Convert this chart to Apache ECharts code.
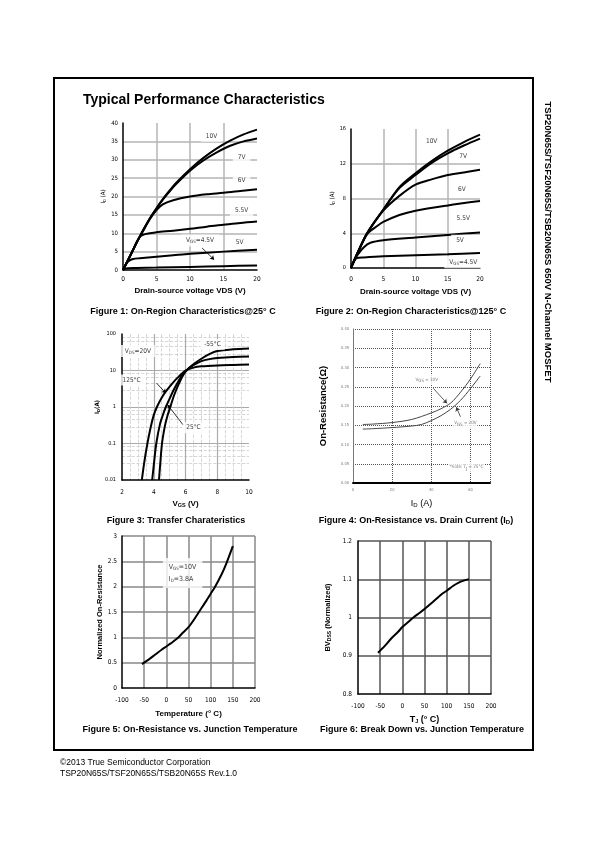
<!DOCTYPE html>
<html><head><meta charset="utf-8">
<script src="https://cdn.jsdelivr.net/npm/echarts@6/dist/echarts.min.js"></script>
<style>html,body{margin:0;padding:0;background:#fff}#c{width:595px;height:842px}</style>
</head><body><div id="c"></div>
<script>
// ---------- DATA ----------
// Figure 1: On-Region Characteristics @25°C  [V_DS (V), I_D (A)]
const f1_vgs10 = [[0,0],[1,3.6],[2,7.3],[3,10.8],[4,14],[5,16.8],[6,19.4],[7,21.7],[8,23.8],[10,27.4],[12,30.5],[14,33.1],[16,35.2],[18,36.9],[20,38.2]];
const f1_vgs7  = [[0,0],[1,3.6],[2,7.3],[3,10.8],[4,14],[5,16.8],[6,19.3],[7,21.5],[8,23.5],[10,27],[12,29.8],[14,32],[16,33.8],[18,35],[20,35.8]];
const f1_vgs6  = [[0,0],[1,3.6],[2,7.3],[3,10.6],[4,13.8],[5,16.3],[6,17.9],[7.5,19],[10,20],[12.5,20.6],[15,21],[17.5,21.5],[20,22]];
const f1_vgs55 = [[0,0],[0.5,1.8],[1,3.6],[1.5,5.5],[2,7.5],[2.5,9],[3,9.6],[4,10],[5,10.3],[7.5,10.7],[10,11.2],[12.5,11.8],[15,12.3],[17.5,12.8],[20,13.2]];
const f1_vgs5  = [[0,0],[0.3,1.1],[0.6,2],[1,2.6],[1.5,3],[2.5,3.2],[5,3.6],[7.5,4],[10,4.4],[15,5],[20,5.5]];
const f1_vgs45 = [[0,0],[0.3,0.35],[0.7,0.5],[2,0.55],[5,0.65],[10,0.85],[15,1.05],[20,1.25]];
// Figure 2: On-Region Characteristics @125°C
const f2_vgs10 = [[0,0],[1,1.7],[2.5,4.0],[5,6.7],[7.5,9.3],[10,10.9],[12.5,12.3],[15,13.5],[17.5,14.5],[20,15.35]];
const f2_vgs7  = [[0,0],[1,1.7],[2.5,4.0],[5,6.7],[7.5,9.2],[10,10.7],[12.5,12.1],[15,13.2],[17.5,14.1],[20,14.9]];
const f2_vgs6  = [[0,0],[1,1.7],[2.5,4.0],[5,6.6],[7.5,8.3],[10,9.6],[12.5,10.2],[15,10.7],[17.5,11.0],[20,11.3]];
const f2_vgs55 = [[0,0],[1,1.7],[2.5,3.9],[4,4.8],[5,5.3],[7.5,6.1],[10,6.6],[15,7.2],[20,7.7]];
const f2_vgs5  = [[0,0],[0.5,0.9],[1,1.5],[2,2.4],[3,2.9],[5,3.2],[10,3.5],[15,3.8],[20,4.1]];
const f2_vgs45 = [[0,0],[0.3,0.55],[0.9,1.15],[2,1.22],[5,1.34],[10,1.46],[15,1.57],[20,1.73]];
// Figure 3: Transfer characteristics [V_GS (V), I_D (A)]
const f3_t125 = [[3.25,0.01],[3.4,0.03],[3.6,0.1],[3.8,0.27],[4.0,0.6],[4.2,1.0],[4.5,1.8],[4.8,2.8],[5.2,4.6],[5.6,7],[6,10],[6.5,12],[7,13],[8,13.8],[9,14.2],[10,14.5]];
const f3_t25  = [[3.9,0.01],[4.0,0.025],[4.16,0.1],[4.4,0.35],[4.6,0.65],[4.76,1.0],[5.0,1.7],[5.3,3.2],[5.6,5.5],[5.85,8.2],[6.1,10.5],[6.5,14],[7,18],[7.5,20.5],[8,22],[9,23.5],[10,24]];
const f3_tm55 = [[4.33,0.01],[4.4,0.025],[4.52,0.1],[4.7,0.3],[4.85,0.55],[5.04,1.0],[5.3,2.2],[5.6,4.5],[5.9,8],[6.2,11.5],[6.6,16],[7,21],[7.5,28],[8,34],[9,38],[10,40]];
// Figure 4: On-resistance vs drain current [I_D (A), R (ohm)]
const f4_vgs10 = [[5,0.152],[10,0.153],[20,0.157],[30,0.165],[40,0.182],[45,0.193],[50,0.208],[55,0.236],[60,0.27],[65,0.31]];
const f4_vgs20 = [[5,0.14],[10,0.141],[20,0.144],[30,0.148],[35,0.152],[40,0.162],[45,0.175],[50,0.192],[55,0.215],[60,0.245],[65,0.278]];
// Figure 5: Normalized on-resistance vs temperature
const f5_rdson = [[-55,0.47],[-40,0.56],[-25,0.66],[-10,0.76],[0,0.82],[10,0.88],[25,0.98],[35,1.07],[50,1.2],[60,1.32],[75,1.52],[90,1.72],[100,1.86],[110,2.0],[125,2.25],[135,2.45],[150,2.8]];
// Figure 6: Normalized BVdss vs temperature
const f6_bvdss = [[-55,0.908],[-40,0.925],[-25,0.945],[-10,0.962],[0,0.975],[10,0.985],[25,1.0],[40,1.013],[50,1.022],[60,1.032],[75,1.047],[90,1.062],[100,1.07],[115,1.083],[125,1.09],[140,1.097],[150,1.1]];

// annotations (text, x, y in data units)
const f1_notes = [['10V',13.2,36.4],['7V',17.7,30.7],['6V',17.7,24.5],['5.5V',17.7,16.2],['5V',17.4,7.5],['V{s|GS}=4.5V',11.5,8]];
const f1_arrows = [[[11.8,6],[13.6,2.8]]];
const f2_notes = [['10V',12.5,14.6],['7V',17.4,12.85],['6V',17.2,9.1],['5.5V',17.4,5.75],['5V',16.9,3.2],['V{s|GS}=4.5V',17.4,0.65]];
const f3_notes = [['V{s|DS}=20V',3.0,34],['-55°C',7.7,52],['125°C',2.6,5.5],['25°C',6.5,0.27]];
const f3_arrows = [[[4.18,4.5],[4.76,2.4]],[[5.83,0.33],[4.87,1.16]]];
const f4_notes = [['V{s|GS} = 10V',37.7,0.268],['V{s|GS} = 20V',57.4,0.155],['*note: T{s|J} = 25°C',58,0.042]];
const f4_arrows = [[[41,0.246],[48,0.207]],[[54.9,0.172],[52.8,0.197]]];
const f5_notes = [['V{s|GS}=10V\nI{s|D}=3.8A',-8,2.27]];

// ---------- HELPERS ----------
const FN = "'Liberation Sans Narrow','Arial Narrow','DejaVu Sans Condensed','Liberation Sans',sans-serif";
const FB = "'Liberation Sans',Arial,sans-serif";
const SUB = {s:{fontSize:4.5, padding:[3,0,0,0], fontFamily:FN}};

function xA(gi, o){
  return Object.assign({type:'value', gridIndex:gi, nameLocation:'middle',
    axisLine:{show:true, onZero:false, lineStyle:{color:'#000', width:1.5}},
    axisTick:{show:false},
    axisLabel:{color:'#000', fontSize:6.5, fontFamily:FN, margin:6},
    nameTextStyle:{color:'#000', fontSize:8, fontWeight:'bold', fontFamily:FB, rich:{s:{fontSize:5.5, fontWeight:'bold', padding:[3,0,0,0]}}},
    splitLine:{show:true, showMinLine:false, lineStyle:{color:'#b0b0b0', width:1.5}}
  }, o);
}
function curve(data, gi, w, col){
  return {type:'line', xAxisIndex:gi, yAxisIndex:gi, data:data, showSymbol:false, symbol:'none',
    smooth:0.3, lineStyle:{color:col||'#000', width:w||2}, z:3, silent:true};
}
function notes(items, gi, fs, extra){
  return {type:'scatter', xAxisIndex:gi, yAxisIndex:gi, symbolSize:0, z:5, silent:true,
    data: items.map(n=>({value:[n[1],n[2]], name:n[0]})),
    label:Object.assign({show:true, position:'inside', formatter:p=>p.name, color:'#000',
      fontSize:fs, fontFamily:FN, backgroundColor:'#fff', padding:[1,3], rich:SUB}, extra||{})};
}
function arrows(list, gi, col){
  return {type:'lines', coordinateSystem:'cartesian2d', xAxisIndex:gi, yAxisIndex:gi, z:6, silent:true,
    data:list.map(c=>({coords:c})), symbol:['none','arrow'], symbolSize:4,
    lineStyle:{color:col||'#000', width:0.8, opacity:1, curveness:0}};
}

// ---------- CHART ----------
const chart = echarts.init(document.getElementById('c'), null, {renderer:'canvas'});
const grids = [
  {left:123, top:123, width:134, height:147},
  {left:351, top:129, width:129, height:139},
  {left:122, top:334, width:127, height:146},
  {left:353, top:329, width:137, height:154},
  {left:122, top:536, width:133, height:152},
  {left:358, top:541, width:133, height:153}
];
const xAxes = [
  xA(0,{min:0,max:20,interval:5, name:'Drain-source voltage VDS (V)', nameGap:17,
    splitLine:{show:true, showMinLine:false, showMaxLine:false, lineStyle:{color:'#b5b5b5', width:1.5}}}),
  xA(1,{min:0,max:20,interval:5, name:'Drain-source voltage VDS (V)', nameGap:20,
    axisLabel:{color:'#000', fontSize:6.5, fontFamily:FN, margin:8},
    splitLine:{show:true, showMinLine:false, showMaxLine:false, lineStyle:{color:'#b5b5b5', width:1.5}}}),
  xA(2,{min:2,max:10,interval:2, name:'V{s|GS} (V)', nameGap:19,
    axisLabel:{color:'#000', fontSize:6.5, fontFamily:FN, margin:9},
    splitLine:{show:true, showMinLine:false, showMaxLine:false, lineStyle:{color:'#aaa', width:1.2}},
    minorTick:{show:false, splitNumber:4},
    minorSplitLine:{show:true, lineStyle:{color:'#ccc', width:0.8, type:'dashed'}}}),
  xA(3,{min:0,max:70,interval:20, name:'I{s|D} (A)', nameGap:16,
    axisLabel:{color:'#777', fontSize:4, fontFamily:FN, margin:5, showMaxLabel:false},
    nameTextStyle:{color:'#000', fontSize:9, fontFamily:FB, rich:{s:{fontSize:6, padding:[3,0,0,0]}}},
    splitLine:{show:true, showMinLine:false, lineStyle:{color:'#555', width:1, type:'dotted'}}}),
  xA(4,{min:-100,max:200,interval:50, name:'Temperature (° C)', nameGap:22,
    axisLabel:{color:'#000', fontSize:6.5, fontFamily:FN, margin:9},
    splitLine:{show:true, showMinLine:false, lineStyle:{color:'#888', width:1.5}}}),
  xA(5,{min:-100,max:200,interval:50, name:'T{s|J} (° C)', nameGap:21,
    nameTextStyle:{color:'#000', fontSize:9, fontWeight:'bold', fontFamily:FB, rich:{s:{fontSize:5.5, fontWeight:'bold', padding:[3,0,0,0]}}},
    axisLabel:{color:'#000', fontSize:6.5, fontFamily:FN, margin:9},
    splitLine:{show:true, showMinLine:false, lineStyle:{color:'#555', width:1.5}}})
];
const yAxes = [
  xA(0,{min:0,max:40,interval:5, name:'I{s|D} (A)', nameGap:15,
    nameTextStyle:{color:'#000', fontSize:6, fontFamily:FN, rich:{s:{fontSize:4, padding:[3,0,0,0]}}},
    axisLabel:{color:'#000', fontSize:6, fontFamily:FN, margin:5},
    splitLine:{show:true, showMinLine:false, showMaxLine:false, lineStyle:{color:'#b5b5b5', width:1.5}}}),
  xA(1,{min:0,max:16,interval:4, name:'I{s|D} (A)', nameGap:13,
    nameTextStyle:{color:'#000', fontSize:6, fontFamily:FN, rich:{s:{fontSize:4, padding:[3,0,0,0]}}},
    axisLabel:{color:'#000', fontSize:5.5, fontFamily:FN, margin:5},
    splitLine:{show:true, showMinLine:false, showMaxLine:false, lineStyle:{color:'#b5b5b5', width:1.5}}}),
  xA(2,{type:'log', logBase:10, min:0.01, max:100, name:'I{s|D}(A)', nameGap:20,
    nameTextStyle:{color:'#000', fontSize:6, fontWeight:'bold', fontFamily:FN, rich:{s:{fontSize:4, padding:[3,0,0,0]}}},
    axisLabel:{color:'#000', fontSize:5.5, fontFamily:FN, margin:6},
    splitLine:{show:true, showMinLine:false, showMaxLine:false, lineStyle:{color:'#aaa', width:1.2}},
    minorTick:{show:false, splitNumber:5},
    minorSplitLine:{show:true, lineStyle:{color:'#ccc', width:0.8, type:'dashed'}}}),
  xA(3,{min:0,max:0.4,interval:0.05, name:'On-Resistance(Ω)', nameGap:25,
    nameTextStyle:{color:'#000', fontSize:9.5, fontWeight:'bold', fontFamily:FB},
    axisLine:{show:true, onZero:false, lineStyle:{color:'#777', width:1}},
    axisLabel:{color:'#777', fontSize:4, fontFamily:FN, margin:4, formatter:v=>v.toFixed(2)},
    splitLine:{show:true, showMinLine:false, lineStyle:{color:'#555', width:1, type:'dotted'}}}),
  xA(4,{min:0,max:3,interval:0.5, name:'Normalized On-Resistance', nameGap:18,
    nameTextStyle:{color:'#000', fontSize:7.5, fontWeight:'bold', fontFamily:FB},
    axisLabel:{color:'#000', fontSize:6.5, fontFamily:FN, margin:5},
    splitLine:{show:true, showMinLine:false, lineStyle:{color:'#888', width:1.5}}}),
  xA(5,{min:0.8,max:1.2,interval:0.1, name:'BV{s|DSS} (Normalized)', nameGap:26,
    nameTextStyle:{color:'#000', fontSize:7.5, fontWeight:'bold', fontFamily:FB, rich:{s:{fontSize:5, fontWeight:'bold', padding:[3,0,0,0]}}},
    axisLabel:{color:'#000', fontSize:6.5, fontFamily:FN, margin:6},
    splitLine:{show:true, showMinLine:false, lineStyle:{color:'#555', width:1.5}}})
];
// bottom axis of fig 4 is black & thick
xAxes[3].axisLine = {show:true, onZero:false, lineStyle:{color:'#000', width:2}};

const series = [
  curve(f1_vgs10,0), curve(f1_vgs7,0), curve(f1_vgs6,0), curve(f1_vgs55,0), curve(f1_vgs5,0), curve(f1_vgs45,0),
  notes(f1_notes,0,6.5,{padding:[2,5]}), arrows(f1_arrows,0),
  curve(f2_vgs10,1), curve(f2_vgs7,1), curve(f2_vgs6,1), curve(f2_vgs55,1), curve(f2_vgs5,1), curve(f2_vgs45,1),
  notes(f2_notes,1,6.5,{padding:[2,5]}),
  curve(f3_t125,2), curve(f3_t25,2), curve(f3_tm55,2),
  notes(f3_notes,2,6.5,{padding:[2,4]}), arrows(f3_arrows,2),
  curve(f4_vgs10,3,1,'#444'), curve(f4_vgs20,3,1,'#444'),
  notes(f4_notes,3,4.5,{color:'#555', padding:[1,1]}), arrows(f4_arrows,3,'#333'),
  curve(f5_rdson,4),
  notes(f5_notes,4,7,{align:'left', lineHeight:12, padding:[3,6]}),
  curve(f6_bvdss,5)
];

const cap = (text, x, y) => ({type:'text', silent:true, style:{text, x, y, fill:'#000',
  font:"bold 9px 'Liberation Sans',Arial,sans-serif", align:'center', verticalAlign:'middle',
  rich:{s:{font:"bold 6px 'Liberation Sans',Arial,sans-serif", padding:[3,0,0,0]}}}});

const graphic = [
  {type:'rect', silent:true, shape:{x:54,y:78,width:479,height:672}, style:{fill:'none', stroke:'#000', lineWidth:2}},
  {type:'text', silent:true, style:{text:'Typical Performance Characteristics', x:83, y:100, fill:'#000',
    font:"bold 14px 'Liberation Sans',Arial,sans-serif", align:'left', verticalAlign:'middle'}},
  {type:'text', silent:true, x:548, y:242, rotation:-Math.PI/2, style:{text:'TSP20N65S/TSF20N65S/TSB20N65S 650V N-Channel MOSFET',
    x:0, y:0, fill:'#000', font:"bold 9.5px 'Liberation Sans',Arial,sans-serif", align:'center', verticalAlign:'middle'}},
  cap('Figure 1: On-Region Characteristics@25° C', 183, 312),
  cap('Figure 2: On-Region Characteristics@125° C', 411, 312),
  cap('Figure 3: Transfer Charateristics', 176, 521),
  cap('Figure 4: On-Resistance vs. Drain Current (I{s|D})', 416, 521),
  cap('Figure 5: On-Resistance vs. Junction Temperature', 190, 730),
  cap('Figure 6: Break Down vs. Junction Temperature', 422, 730),
  {type:'text', silent:true, style:{text:'©2013 True Semiconductor Corporation', x:60, y:763, fill:'#000',
    font:"8.5px 'Liberation Sans',Arial,sans-serif", align:'left', verticalAlign:'middle'}},
  {type:'text', silent:true, style:{text:'TSP20N65S/TSF20N65S/TSB20N65S Rev.1.0', x:60, y:774, fill:'#000',
    font:"8.5px 'Liberation Sans',Arial,sans-serif", align:'left', verticalAlign:'middle'}}
];

chart.setOption({
  animation:false,
  backgroundColor:'#fff',
  grid:grids, xAxis:xAxes, yAxis:yAxes, series:series, graphic:graphic
});
</script></body></html>
